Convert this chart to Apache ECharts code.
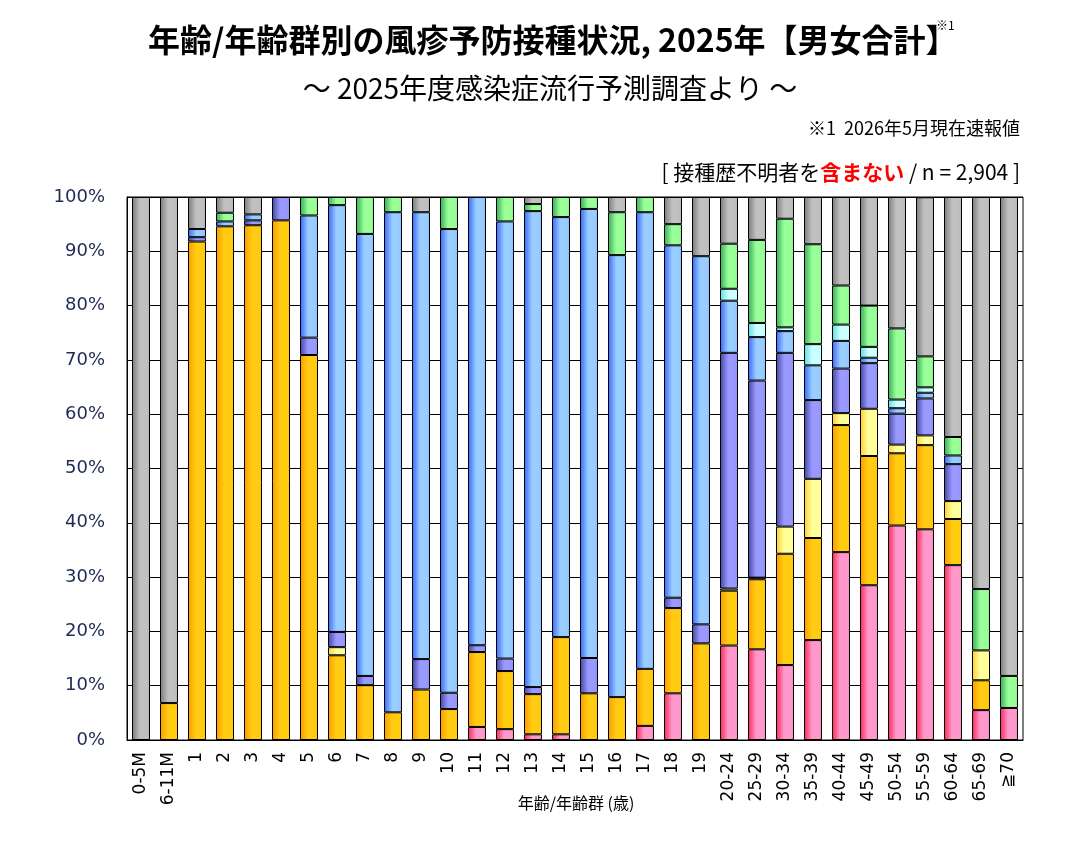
<!DOCTYPE html>
<html>
<head>
<meta charset="utf-8">
<script src="https://cdn.jsdelivr.net/npm/echarts@6/dist/echarts.min.js"></script>
<style>
html,body{margin:0;padding:0;background:#fff;}
#chart{width:1086px;height:866px;}
</style>
</head>
<body>
<div id="chart"></div>
<script>
const categories = ['0-5M','6-11M','1','2','3','4','5','6','7','8','9','10','11','12','13','14','15','16','17','18','19','20-24','25-29','30-34','35-39','40-44','45-49','50-54','55-59','60-64','65-69','≧70'];
const yTicks = [0,10,20,30,40,50,60,70,80,90,100];

const pinkVals   = [0,0,0,0,0,0,0,0,0,0,0,0,2.4,2.0,1.05,1.05,0,0,2.6,8.6,0,17.4,16.7,13.8,18.4,34.6,28.5,39.5,38.8,32.2,5.5,5.9];
const orangeVals = [0,6.8,91.8,94.6,94.8,95.7,70.9,15.6,10.1,5.1,9.3,5.7,13.8,10.7,7.4,17.9,8.6,7.9,10.5,15.7,17.8,10.1,12.9,20.5,18.8,23.4,23.8,13.3,15.5,8.5,5.5,0];
const yellowVals = [0,0,0,0,0,0,0,1.5,0,0,0,0,0,0,0,0,0,0,0,0,0,0.4,0.3,5.0,10.9,2.2,8.7,1.6,1.8,3.3,5.5,0];
const purpleVals = [0,0,0.8,0,0.9,4.3,3.2,2.8,1.7,0,5.6,3.0,1.25,2.3,1.3,0,6.5,0,0,1.9,3.5,43.4,36.3,32.0,14.5,8.2,8.4,5.7,6.8,6.8,0,0];
const blueVals   = [0,0,1.5,0.9,1.1,0,22.5,78.6,81.4,92.1,82.3,85.4,82.55,80.5,87.65,77.35,82.7,81.4,84.1,64.9,67.8,9.6,8.0,4.0,6.4,5.1,1.0,1.0,1.05,1.6,0,0];
const cyanVals   = [0,0,0,0,0,0,0,0,0,0,0,0,0,0,0,0,0,0,0,0,0,2.2,2.6,0.7,3.9,3.0,2.0,1.6,1.0,0,0,0];
const greenVals  = [0,0,0,1.6,0,0,3.4,1.5,6.8,2.8,0,5.9,0,4.5,1.3,3.7,2.2,7.9,2.8,3.9,0,8.3,15.3,20.0,18.4,7.2,7.6,13.1,5.7,3.4,11.3,5.9];
const grayVals   = [100,93.2,5.9,2.9,3.2,0,0,0,0,0,2.8,0,0,0,1.3,0,0,2.8,0,5.0,10.9,8.6,7.9,4.0,8.7,16.3,20.0,24.2,29.3,44.2,72.2,88.2];

function grad(dark, light, right){
  return new echarts.graphic.LinearGradient(0,0,1,0,[
    {offset:0,color:dark},{offset:0.45,color:light},{offset:0.8,color:light},{offset:1,color:right}
  ]);
}
const seriesDefs = [
  {name:'A', data:pinkVals,   c:grad('#ff2255','#ff99cc','#ff88bb')},
  {name:'B', data:orangeVals, c:grad('#ff9900','#ffcc11','#ffc000')},
  {name:'C', data:yellowVals, c:grad('#ffcc33','#ffff99','#ffff88')},
  {name:'D', data:purpleVals, c:grad('#4444a0','#9999ff','#8c8cf0')},
  {name:'E', data:blueVals,   c:grad('#3366ff','#99ccff','#8ebcff')},
  {name:'F', data:cyanVals,   c:grad('#55dddd','#ccffff','#bbffff')},
  {name:'G', data:greenVals,  c:grad('#33aa55','#99ff99','#8cee8c')},
  {name:'H', data:grayVals,   c:grad('#7a7a7a','#c0c0c0','#b4b4b4')}
];

const chart = echarts.init(document.getElementById('chart'), null, {renderer:'canvas'});
chart.setOption({
  animation:false,
  backgroundColor:'#fff',
  grid:{left:127,right:63,top:197,bottom:126,show:true,borderColor:'#000',borderWidth:1},
  xAxis:{
    type:'category', data:categories,
    axisLine:{lineStyle:{color:'#000',width:1}},
    axisTick:{show:false},
    axisLabel:{rotate:90, interval:0, fontFamily:'DejaVu Sans', fontSize:17, color:'#000', margin:12}
  },
  yAxis:{
    type:'value', min:0, max:100, interval:10,
    axisLine:{show:true,lineStyle:{color:'#000'}},
    axisTick:{show:false},
    splitLine:{lineStyle:{color:'#000',width:1}},
    axisLabel:{formatter:v=>yTicks.includes(v)?v+'%':'', fontFamily:'DejaVu Sans', fontSize:18, color:'#1f2a55', margin:22}
  },
  series: seriesDefs.map(s=>({
    name:s.name, type:'bar', stack:'total', barWidth:18,
    data:s.data.map(v=>v===0?null:v),
    itemStyle:{color:s.c, borderColor:'#000', borderWidth:1},
    emphasis:{disabled:true}
  })),
  graphic:[
    {type:'text', x:148, y:40, style:{text:'年齢/年齢群別の風疹予防接種状況, 2025年【男女合計】', font:'bold 32px "Noto Sans CJK JP"', fill:'#000', align:'left', verticalAlign:'middle'}},
    {type:'text', x:936, y:25, style:{text:'※1', font:'12px "Noto Sans CJK JP"', fill:'#000', verticalAlign:'middle'}},
    {type:'text', x:550, y:88, style:{text:'～ 2025年度感染症流行予測調査より ～', font:'28px "Noto Sans CJK JP"', fill:'#000', align:'center', verticalAlign:'middle'}},
    {type:'text', x:1020, y:128, style:{text:'※1  2026年5月現在速報値', font:'18px "Noto Sans CJK JP"', fill:'#000', align:'right', verticalAlign:'middle'}},
    {type:'text', x:1020, y:172, style:{
      text:'{a|[ 接種歴不明者を}{b|含まない}{a| / n = 2,904 ]}', align:'right', verticalAlign:'middle',
      rich:{a:{font:'21px "Noto Sans CJK JP"', fill:'#000'}, b:{font:'bold 21px "Noto Sans CJK JP"', fill:'#ff0000'}}
    }},
    {type:'text', x:576, y:803, style:{text:'年齢/年齢群 (歳)', font:'16px "Noto Sans CJK JP"', fill:'#000', align:'center', verticalAlign:'middle'}}
  ]
});
</script>
</body>
</html>
